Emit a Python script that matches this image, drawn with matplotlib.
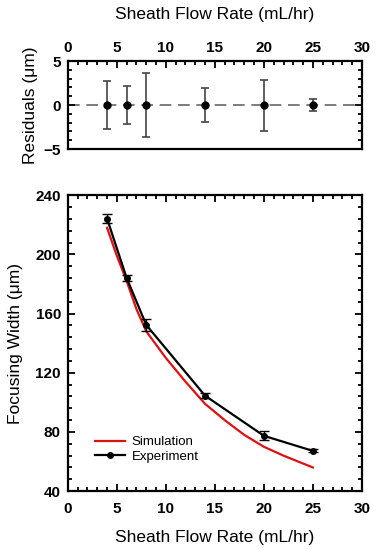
import numpy as np
import matplotlib.pyplot as plt
from matplotlib.lines import Line2D
from matplotlib.ticker import MultipleLocator

plt.rcParams['font.family'] = ['Liberation Sans', 'DejaVu Sans']

# experiment
flow = [4, 6, 8, 14, 20, 25]
width_exp = [224.2, 184.0, 152.3, 104.5, 77.4, 67.2]
width_err = [3.0, 2.2, 3.8, 1.8, 3.0, 1.0]

# residuals
resid = [0, 0, 0, 0, 0, 0]
resid_err = [2.7, 2.2, 3.6, 1.9, 2.9, 0.7]

# simulation curve
flow_sim = [4, 5, 6, 7, 8, 10, 12, 14, 16, 18, 20, 22, 25]
width_sim = [218, 199, 182, 163, 148, 130, 114, 99, 88, 78, 70, 64, 56]

fig = plt.figure(figsize=(3.77, 5.5), dpi=100)
ax1 = fig.add_axes([0.180, 0.729, 0.780, 0.160])
ax2 = fig.add_axes([0.180, 0.107, 0.780, 0.538])

# residuals panel
ax1.axhline(0, color='#666666', linestyle=(0, (7, 4)), linewidth=1.2, zorder=1)
ax1.errorbar(flow, resid, yerr=resid_err, fmt='o', color='black', ms=5,
             ecolor='#444444', elinewidth=1.2, capsize=3, capthick=1.2, zorder=3)
ax1.set_xlim(0, 30)
ax1.set_ylim(-5, 5)
ax1.set_xticks(np.arange(0, 31, 5))
ax1.set_yticks([-5, 0, 5])
ax1.xaxis.set_minor_locator(MultipleLocator(1))
ax1.yaxis.set_minor_locator(MultipleLocator(1))
ax1.xaxis.tick_top()
ax1.xaxis.set_label_position('top')
ax1.set_xlabel('Sheath Flow Rate (mL/hr)', fontsize=12.5, labelpad=16)
ax1.set_ylabel('Residuals (\u03bcm)', fontsize=12.5, labelpad=4)

# focusing width panel
ax2.plot(flow_sim, width_sim, color='#dd1111', linewidth=1.6)
ax2.errorbar(flow, width_exp, yerr=width_err, fmt='-o', color='black', ms=4,
             linewidth=1.6, elinewidth=1.0, capsize=3.5, capthick=1.0)
ax2.set_xlim(0, 30)
ax2.set_ylim(40, 240)
ax2.set_xticks(np.arange(0, 31, 5))
ax2.set_yticks(np.arange(40, 241, 40))
ax2.xaxis.set_minor_locator(MultipleLocator(1))
ax2.yaxis.set_minor_locator(MultipleLocator(8))
ax2.set_xlabel('Sheath Flow Rate (mL/hr)', fontsize=12.5, labelpad=10)
ax2.set_ylabel('Focusing Width (\u03bcm)', fontsize=12.5, labelpad=9)

handles = [Line2D([], [], color='#dd1111', linewidth=1.6),
           Line2D([], [], color='black', linewidth=1.6, marker='o', ms=4)]
ax2.legend(handles, ['Simulation', 'Experiment'], loc='lower left',
           bbox_to_anchor=(0.06, 0.065), frameon=False, fontsize=9.5,
           handlelength=2.3, handletextpad=0.5, labelspacing=0.15, borderpad=0.2)

for ax in (ax1, ax2):
    ax.tick_params(which='both', direction='in', top=True, right=True, width=1.3)
    ax.tick_params(which='major', length=5, pad=5)
    ax.tick_params(which='minor', length=3)
    for lab in ax.get_xticklabels() + ax.get_yticklabels():
        lab.set_fontsize(11)
        lab.set_fontweight('bold')
    for s in ax.spines.values():
        s.set_linewidth(1.6)
ax2.tick_params(axis='x', which='major', pad=8)
ax1.tick_params(axis='x', which='major', pad=4)

fig.savefig('out.png', dpi=100)
